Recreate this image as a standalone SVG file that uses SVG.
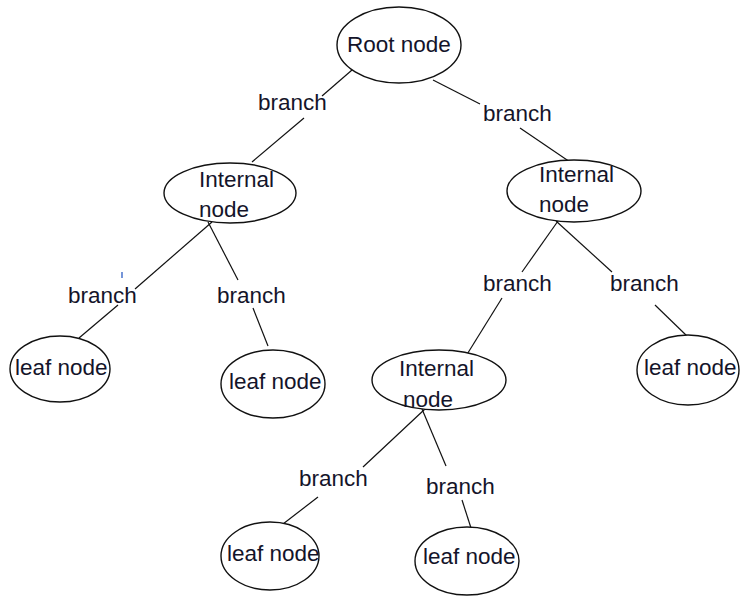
<svg xmlns="http://www.w3.org/2000/svg" width="740" height="598" viewBox="0 0 740 598">
<style>
.n ellipse{fill:#fff;stroke:#111;stroke-width:1.4}
text{font-family:"Liberation Sans",Arial,sans-serif;font-size:22.5px;fill:#14142a}
.c line{stroke:#111;stroke-width:1.2}
</style>
<rect width="740" height="598" fill="#fff"/>
<g class="c" id="connectors">
<line x1="352" y1="70" x2="322" y2="96"/>
<line x1="304" y1="118" x2="252" y2="162"/>
<line x1="433" y1="80" x2="480" y2="104"/>
<line x1="520" y1="128" x2="570" y2="162"/>
<line x1="212" y1="222" x2="135" y2="289"/>
<line x1="118" y1="305" x2="79" y2="338"/>
<line x1="208" y1="222" x2="238" y2="280"/>
<line x1="253" y1="308" x2="268" y2="346"/>
<line x1="558" y1="221" x2="522" y2="272"/>
<line x1="502" y1="298" x2="466" y2="356"/>
<line x1="556" y1="221" x2="612" y2="272"/>
<line x1="655" y1="305" x2="688" y2="337"/>
<line x1="425" y1="409" x2="363" y2="467"/>
<line x1="318" y1="497" x2="283" y2="524"/>
<line x1="422" y1="409" x2="446" y2="466"/>
<line x1="462" y1="500" x2="471" y2="528"/>
</g>
<g class="n" id="root"><ellipse cx="399" cy="45" rx="62" ry="38"/><text x="347" y="52">Root node</text></g>
<g class="n" id="internal-left"><ellipse cx="230" cy="193" rx="66" ry="30"/><text x="199" y="187">Internal</text><text x="199" y="217">node</text></g>
<g class="n" id="internal-right"><ellipse cx="574" cy="191" rx="67" ry="31"/><text x="539" y="182">Internal</text><text x="539" y="212">node</text></g>
<g class="n" id="internal-mid"><ellipse cx="439" cy="380" rx="67" ry="30"/><text x="399" y="376">Internal</text><text x="403" y="407">node</text></g>
<g class="n" id="leaf-1"><ellipse cx="60" cy="369" rx="50" ry="33"/><text x="15" y="375">leaf node</text></g>
<g class="n" id="leaf-2"><ellipse cx="273" cy="384" rx="52" ry="34"/><text x="229" y="389">leaf node</text></g>
<g class="n" id="leaf-3"><ellipse cx="688" cy="370" rx="51" ry="35"/><text x="644" y="375">leaf node</text></g>
<g class="n" id="leaf-4"><ellipse cx="270" cy="556" rx="49" ry="34"/><text x="227" y="561">leaf node</text></g>
<g class="n" id="leaf-5"><ellipse cx="467" cy="561" rx="52" ry="34"/><text x="423" y="564">leaf node</text></g>
<g id="labels">
<text x="258" y="110">branch</text>
<text x="483" y="121">branch</text>
<text x="68" y="303">branch</text>
<text x="217" y="303">branch</text>
<text x="483" y="291">branch</text>
<text x="610" y="291">branch</text>
<text x="299" y="486">branch</text>
<text x="426" y="494">branch</text>
</g>
<line x1="122" y1="272" x2="122" y2="278" stroke="#1a4fbf" stroke-width="1.2"/>
</svg>
